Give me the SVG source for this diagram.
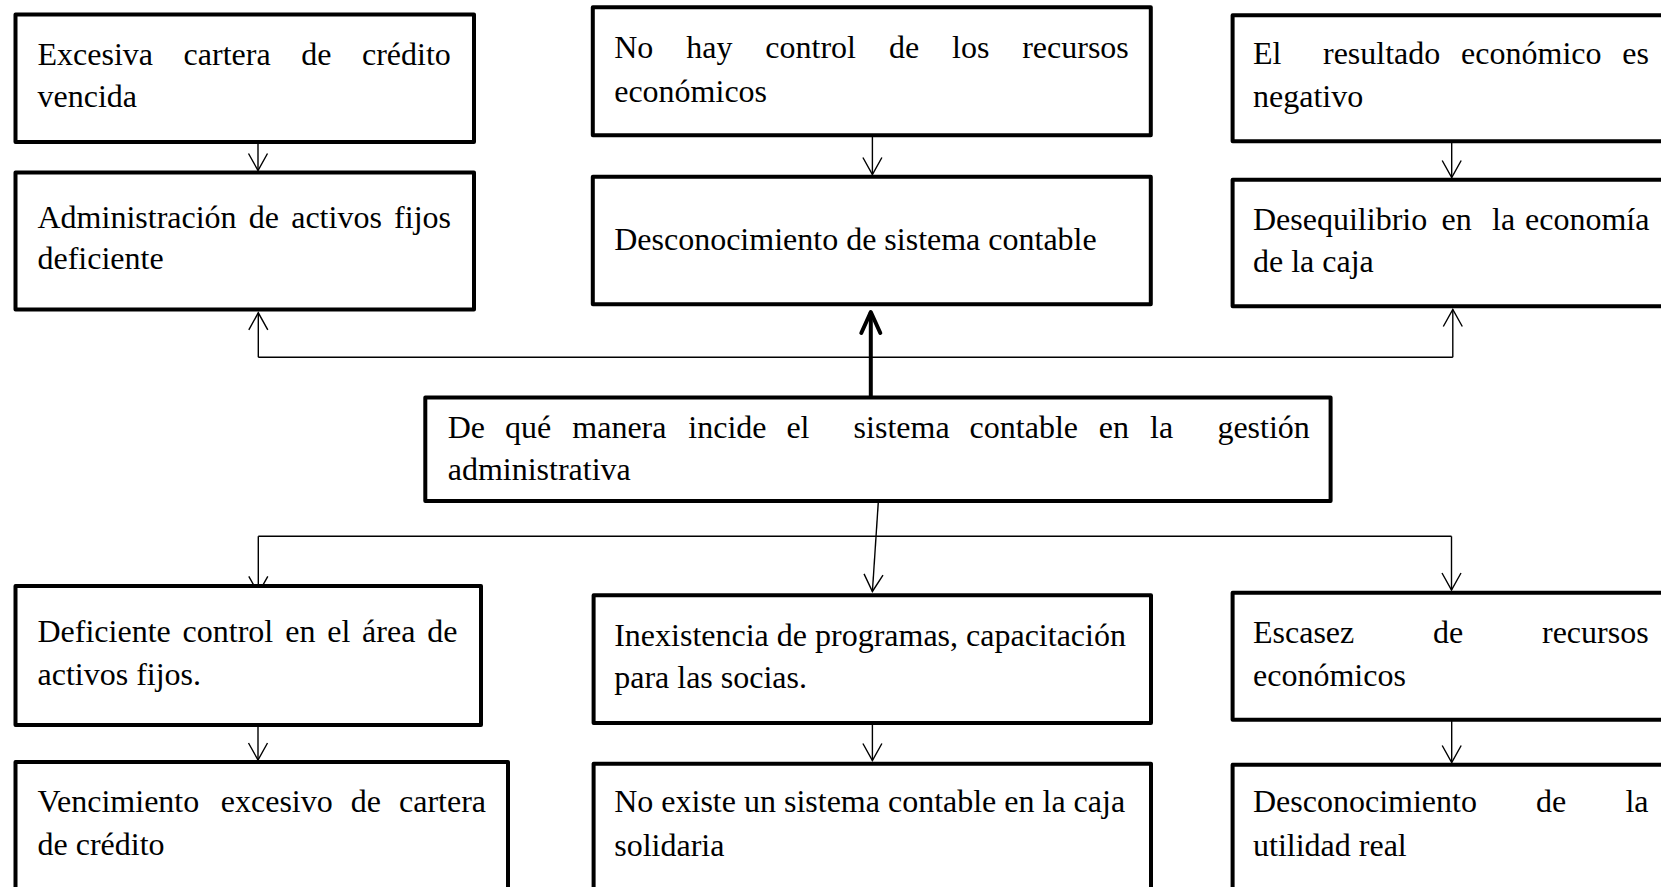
<svg xmlns="http://www.w3.org/2000/svg" width="1661" height="887" viewBox="0 0 1661 887">
<style>
.box{fill:#fff;stroke:#000;stroke-width:4;stroke-linejoin:round}
.t{font-family:"Liberation Serif","Times New Roman",serif;font-size:32px;fill:#000}
.ln{fill:none;stroke:#000;stroke-width:1.4}
.thick{fill:none;stroke:#000;stroke-width:4}
</style>
<defs>
<marker id="ah" markerUnits="userSpaceOnUse" markerWidth="40" markerHeight="40" viewBox="-20 -20 40 40" refX="0" refY="0" orient="auto" overflow="visible">
<path d="M-17,-9.5 L0,0 L-17,9.5" fill="none" stroke="#000" stroke-width="1.4"/>
</marker>
<marker id="ahb" markerUnits="userSpaceOnUse" markerWidth="50" markerHeight="50" viewBox="-25 -25 50 50" refX="0" refY="0" orient="auto" overflow="visible">
<path d="M-21,-9.5 L0,0 L-21,9.5" fill="none" stroke="#000" stroke-width="4" stroke-linecap="round" stroke-linejoin="round"/>
</marker>
</defs>
<rect width="1661" height="887" fill="#fff"/>

<g id="connectors">
<path class="ln" d="M258,142 V170.5" marker-end="url(#ah)"/>
<path class="ln" d="M872.4,136 V174.5" marker-end="url(#ah)"/>
<path class="ln" d="M1451.7,142 V177.5" marker-end="url(#ah)"/>
<path class="thick" d="M870.8,396 V312" marker-end="url(#ahb)"/>
<path class="ln" d="M258.3,357.3 H1452.8"/>
<path class="ln" d="M258.3,357.3 V312.8" marker-end="url(#ah)"/>
<path class="ln" d="M1452.8,357.3 V309.5" marker-end="url(#ah)"/>
<path class="ln" d="M258.3,536.3 H1451.5"/>
<path class="ln" d="M258.3,536.3 V593.3" marker-end="url(#ah)"/>
<path class="ln" d="M1451.5,536.3 V590" marker-end="url(#ah)"/>
<path class="ln" d="M878.3,502 L872.4,591.5" marker-end="url(#ah)"/>
<path class="ln" d="M258,726 V760" marker-end="url(#ah)"/>
<path class="ln" d="M872.4,724 V760.5" marker-end="url(#ah)"/>
<path class="ln" d="M1451.7,721 V762.5" marker-end="url(#ah)"/>
</g>

<g id="node-l1">
<rect class="box" x="15.5" y="14.5" width="458.5" height="127.5"/>
<text class="t" y="65"><tspan x="37.5">Excesiva</tspan><tspan x="183.6">cartera</tspan><tspan x="301.2">de</tspan><tspan x="362">crédito</tspan></text>
<text class="t" x="37.5" y="107">vencida</text>
</g>
<g id="node-l2">
<rect class="box" x="15.5" y="172.5" width="458.5" height="137"/>
<text class="t" y="227.7"><tspan x="37.5">Administración</tspan><tspan x="248.8">de</tspan><tspan x="291.2">activos</tspan><tspan x="394.1">fijos</tspan></text>
<text class="t" x="37.5" y="269.3">deficiente</text>
</g>
<g id="node-m1">
<rect class="box" x="592.8" y="7.3" width="558" height="128"/>
<text class="t" y="58.3"><tspan x="614.2">No</tspan><tspan x="686.2">hay</tspan><tspan x="765.3">control</tspan><tspan x="888.9">de</tspan><tspan x="952">los</tspan><tspan x="1022.2">recursos</tspan></text>
<text class="t" x="614.2" y="101.7">económicos</text>
</g>
<g id="node-m2">
<rect class="box" x="592.8" y="176.7" width="558" height="127.5"/>
<text class="t" x="614.2" y="250">Desconocimiento de sistema contable</text>
</g>
<g id="node-r1">
<rect class="box" x="1232.6" y="15.3" width="500" height="126"/>
<text class="t" y="64"><tspan x="1253">El</tspan><tspan x="1323">resultado</tspan><tspan x="1461.1">económico</tspan><tspan x="1622.3">es</tspan></text>
<text class="t" x="1253" y="107">negativo</text>
</g>
<g id="node-r2">
<rect class="box" x="1232.6" y="179.7" width="500" height="126.6"/>
<text class="t" y="230"><tspan x="1253">Desequilibrio</tspan><tspan x="1441.5">en</tspan><tspan x="1492">la</tspan><tspan x="1525">economía</tspan></text>
<text class="t" x="1253" y="271.7">de la caja</text>
</g>
<g id="node-center">
<rect class="box" x="425.3" y="397.5" width="905.3" height="103.5"/>
<text class="t" y="438"><tspan x="447.7">De</tspan><tspan x="505">qué</tspan><tspan x="572.3">manera</tspan><tspan x="688.3">incide</tspan><tspan x="786.4">el</tspan><tspan x="853.6">sistema</tspan><tspan x="969.6">contable</tspan><tspan x="1098.7">en</tspan><tspan x="1150">la</tspan><tspan x="1217.4">gestión</tspan></text>
<text class="t" x="447.7" y="480">administrativa</text>
</g>
<g id="node-l3">
<rect class="box" x="15.5" y="586" width="465.5" height="139"/>
<text class="t" y="641.7"><tspan x="37.5">Deficiente</tspan><tspan x="182.6">control</tspan><tspan x="285.2">en</tspan><tspan x="327.2">el</tspan><tspan x="362.1">área</tspan><tspan x="427.3">de</tspan></text>
<text class="t" x="37.5" y="685">activos fijos.</text>
</g>
<g id="node-l4">
<rect class="box" x="15.5" y="762" width="492.5" height="200"/>
<text class="t" y="811.7"><tspan x="37.5">Vencimiento</tspan><tspan x="220.8">excesivo</tspan><tspan x="350.8">de</tspan><tspan x="399">cartera</tspan></text>
<text class="t" x="37.5" y="855">de crédito</text>
</g>
<g id="node-m3">
<rect class="box" x="593.6" y="595.3" width="557.4" height="127.7"/>
<text class="t" x="614.2" y="646">Inexistencia de programas, capacitación</text>
<text class="t" x="614.2" y="688.3">para las socias.</text>
</g>
<g id="node-m4">
<rect class="box" x="593.6" y="763.7" width="557.4" height="200"/>
<text class="t" x="614.2" y="811.7">No existe un sistema contable en la caja</text>
<text class="t" x="614.2" y="855.7">solidaria</text>
</g>
<g id="node-r3">
<rect class="box" x="1232.6" y="592.7" width="500" height="127"/>
<text class="t" y="642.7"><tspan x="1253">Escasez</tspan><tspan x="1433.1">de</tspan><tspan x="1542">recursos</tspan></text>
<text class="t" x="1253" y="686">económicos</text>
</g>
<g id="node-r4">
<rect class="box" x="1232.6" y="764.7" width="500" height="200"/>
<text class="t" y="811.7"><tspan x="1253">Desconocimiento</tspan><tspan x="1536.1">de</tspan><tspan x="1625.4">la</tspan></text>
<text class="t" x="1253" y="856">utilidad real</text>
</g>
</svg>
